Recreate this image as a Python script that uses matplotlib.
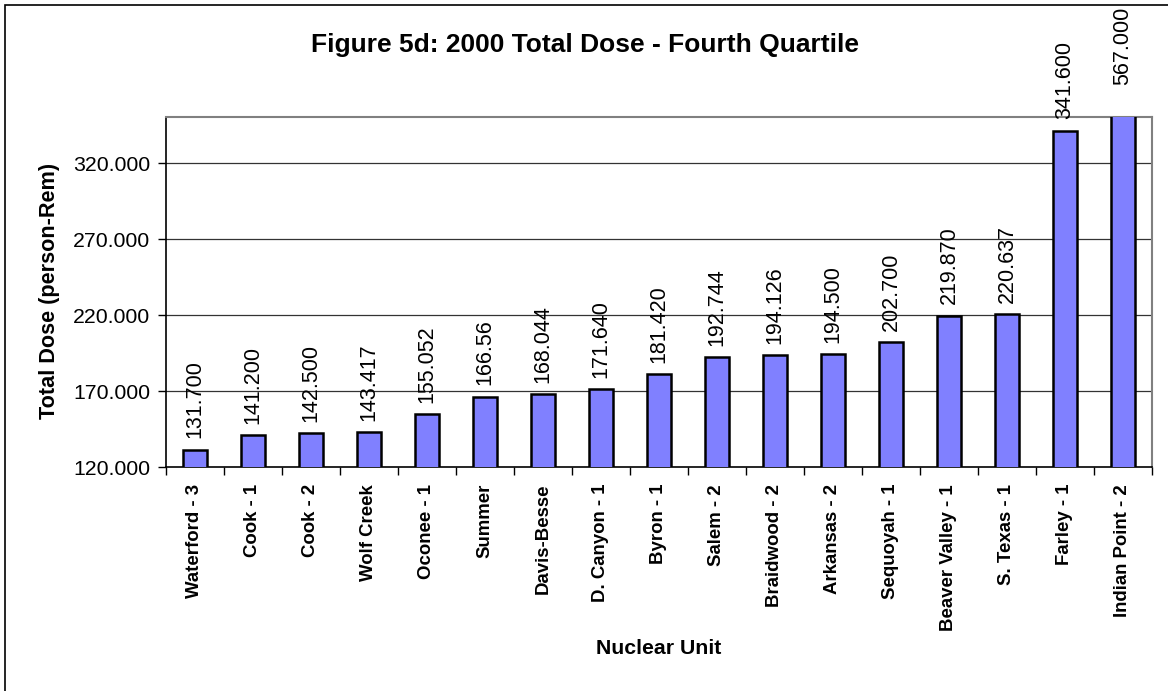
import matplotlib
matplotlib.use("Agg")
import matplotlib.pyplot as plt
from matplotlib.patches import Rectangle

units = ["Waterford - 3", "Cook - 1", "Cook - 2", "Wolf Creek", "Oconee - 1",
         "Summer", "Davis-Besse", "D. Canyon - 1", "Byron - 1", "Salem - 2",
         "Braidwood - 2", "Arkansas - 2", "Sequoyah - 1", "Beaver Valley - 1",
         "S. Texas - 1", "Farley - 1", "Indian Point - 2"]
doses = [131.700, 141.200, 142.500, 143.417, 155.052, 166.56, 168.044, 171.640,
         181.420, 192.744, 194.126, 194.500, 202.700, 219.870, 220.637, 341.600, 567.000]
dose_labels = ["131.700", "141.200", "142.500", "143.417", "155.052", "166.56",
               "168.044", "171.640", "181.420", "192.744", "194.126", "194.500",
               "202.700", "219.870", "220.637", "341.600", "567.000"]
y_ticks = [120, 170, 220, 270, 320]

plt.rcParams['font.family'] = ['Liberation Sans', 'DejaVu Sans']

fig = plt.figure(figsize=(11.68, 6.91), dpi=100)
fig.patches.append(Rectangle((5/1168, -0.01), 1.02, 1 - 5/691 + 0.01,
                             transform=fig.transFigure, fill=False,
                             edgecolor='black', linewidth=1.2))

ax = fig.add_axes([165.7/1168, 1 - 467.3/691, (1152 - 165.7)/1168, (467.3 - 117)/691])
ymin, ymax = 120, 350.5
x = list(range(len(units)))
ax.bar(x, doses, width=0.42, bottom=0, color='#8080FF', edgecolor='black',
       linewidth=1.8, zorder=3)
ax.set_ylim(ymin, ymax)
ax.set_xlim(-0.5, len(units) - 0.5)

for gy in y_ticks[1:]:
    ax.axhline(gy, color='#333333', linewidth=0.9, zorder=1)

for i, (v, s) in enumerate(zip(doses, dose_labels)):
    if v <= ymax:
        ax.annotate(s, xy=(i, v), xytext=(0, 8), textcoords='offset points',
                    rotation=90, ha='center', va='bottom', fontsize=15.5, zorder=4)
    else:
        ax.annotate(s, xy=(i, ymax), xytext=(0, 23), textcoords='offset points',
                    rotation=90, ha='center', va='bottom', fontsize=15.5,
                    annotation_clip=False, zorder=4)

ax.set_yticks(y_ticks)
ax.set_yticklabels([f"{t:.3f}" for t in y_ticks], fontsize=15.3)
ax.set_xticks([i - 0.5 for i in range(len(units) + 1)], minor=False)
ax.set_xticklabels([])
ax.set_xticks(x, minor=True)
ax.set_xticklabels(units, minor=True, rotation=90, fontsize=13.4, fontweight='bold')
ax.tick_params(axis='x', which='minor', length=0, pad=12)
ax.tick_params(axis='x', which='major', length=6, width=1, direction='out')
ax.tick_params(axis='y', length=6, width=1, direction='out', pad=5)

for side in ['top', 'right']:
    ax.spines[side].set_color('#808080')
    ax.spines[side].set_linewidth(1.5)
for side in ['left', 'bottom']:
    ax.spines[side].set_color('black')
    ax.spines[side].set_linewidth(1.2)

fig.text(585/1168, 1 - 45/691, "Figure 5d: 2000 Total Dose - Fourth Quartile",
         ha='center', va='center', fontsize=19, fontweight='bold')
fig.text(50/1168, 1 - 291/691, "Total Dose (person-Rem)", rotation=90,
         ha='center', va='center', fontsize=15.6, fontweight='bold')
fig.text(659/1168, 1 - 649/691, "Nuclear Unit", ha='center', va='center',
         fontsize=15.3, fontweight='bold')

fig.savefig("out.png", dpi=100)
